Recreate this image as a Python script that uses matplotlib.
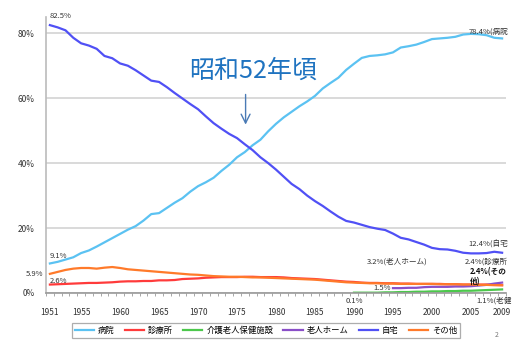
import numpy as np
import matplotlib.pyplot as plt

plt.rcParams['font.family'] = ['Noto Sans CJK JP', 'DejaVu Sans']

# Place of death, share of all deaths (%), 1951-2009
years = list(range(1951, 2010))

hospital = [9.1, 9.6, 10.3, 11.0, 12.3, 13.1, 14.3, 15.6, 16.9, 18.2,
            19.5, 20.6, 22.3, 24.3, 24.6, 26.2, 27.8, 29.2, 31.2, 32.9,
            34.1, 35.5, 37.6, 39.5, 41.8, 43.4, 45.5, 47.2, 49.8, 52.1,
            54.1, 55.8, 57.5, 59.0, 60.7, 63.0, 64.7, 66.3, 68.7, 70.6,
            72.4, 73.0, 73.2, 73.5, 74.1, 75.6, 76.0, 76.5, 77.3, 78.2,
            78.4, 78.6, 78.9, 79.6, 79.8, 79.7, 79.4, 78.6, 78.4]

clinic = [2.6, 2.7, 2.8, 2.9, 3.0, 3.1, 3.1, 3.2, 3.3, 3.5,
          3.6, 3.6, 3.7, 3.7, 3.9, 3.9, 4.0, 4.3, 4.4, 4.5,
          4.7, 4.8, 4.9, 4.9, 4.9, 5.0, 5.0, 4.9, 4.9, 4.9,
          4.8, 4.6, 4.5, 4.4, 4.3, 4.1, 3.9, 3.7, 3.5, 3.4,
          3.2, 3.1, 3.1, 3.0, 3.0, 2.9, 2.9, 2.8, 2.8, 2.8,
          2.8, 2.7, 2.7, 2.6, 2.6, 2.6, 2.6, 2.5, 2.4]

home = [82.5, 81.8, 80.9, 78.6, 76.9, 76.2, 75.2, 73.0, 72.3, 70.7,
        70.0, 68.6, 67.0, 65.4, 65.0, 63.4, 61.6, 59.9, 58.2, 56.6,
        54.4, 52.3, 50.6, 49.0, 47.7, 45.8, 44.0, 41.8, 40.0, 38.0,
        35.8, 33.6, 32.0, 30.0, 28.3, 26.8, 25.1, 23.5, 22.2, 21.7,
        21.0, 20.3, 19.8, 19.4, 18.3, 17.0, 16.5, 15.7, 14.9, 13.9,
        13.5, 13.4, 13.0, 12.4, 12.2, 12.2, 12.3, 12.7, 12.4]

other = [5.9, 6.5, 7.1, 7.5, 7.7, 7.7, 7.5, 7.8, 8.0, 7.7,
         7.3, 7.1, 6.9, 6.7, 6.5, 6.3, 6.1, 5.9, 5.7, 5.6,
         5.4, 5.2, 5.1, 5.0, 5.0, 4.9, 4.8, 4.8, 4.7, 4.6,
         4.5, 4.4, 4.3, 4.2, 4.1, 3.9, 3.7, 3.5, 3.3, 3.2,
         3.1, 3.0, 3.0, 2.9, 2.9, 2.8, 2.8, 2.8, 2.8, 2.8,
         2.7, 2.7, 2.7, 2.6, 2.6, 2.5, 2.5, 2.4, 2.4]

rouken_years = list(range(1990, 2010))
rouken = [0.1, 0.1, 0.1, 0.1, 0.2, 0.2, 0.3, 0.3, 0.4, 0.4,
          0.5, 0.5, 0.6, 0.6, 0.7, 0.7, 0.8, 0.9, 1.0, 1.1]

nursing_years = list(range(1995, 2010))
nursing = [1.5, 1.5, 1.6, 1.6, 1.8, 1.9, 1.9, 1.9, 2.0, 2.0,
           2.1, 2.3, 2.5, 2.9, 3.2]

tick_years = [1951, 1955, 1960, 1965, 1970, 1975, 1980, 1985, 1990, 1995, 2000, 2005, 2009]

fig = plt.figure(figsize=(5.14, 3.46), dpi=100)
ax = fig.add_axes([46/514, 53/346, 460/514, 276/346])

lw = 1.6
ax.plot(years, hospital, color='#5BC2F2', lw=lw, label='病院')
ax.plot(years, clinic, color='#FF3B3B', lw=lw, label='診療所')
ax.plot(rouken_years, rouken, color='#4CC84C', lw=lw, label='介護老人保健施設')
ax.plot(nursing_years, nursing, color='#8A4FC8', lw=lw, label='老人ホーム')
ax.plot(years, home, color='#5050F5', lw=lw, label='自宅')
ax.plot(years, other, color='#FF7A2A', lw=lw, label='その他')

ax.set_xlim(1950.5, 2009.5)
ax.set_ylim(0, 85)
ax.set_yticks([0, 20, 40, 60, 80])
ax.set_yticklabels(['0%', '20%', '40%', '60%', '80%'])
ax.set_xticks(tick_years)
ax.set_xticklabels([str(y) for y in tick_years])
ax.set_xticks(np.arange(1950.5, 2010, 1), minor=True)
ax.tick_params(axis='x', which='major', length=0, pad=11, labelsize=6, labelcolor='#333333')
ax.tick_params(axis='x', which='minor', length=2.5, color='#999999', direction='out')
ax.tick_params(axis='y', length=0, pad=8, labelsize=6, labelcolor='#333333')
ax.grid(axis='y', color='#D9D9D9', lw=1.4)
ax.set_axisbelow(True)
for side in ['top', 'right']:
    ax.spines[side].set_visible(False)
ax.spines['left'].set_color('#BBBBBB')
ax.spines['bottom'].set_color('#999999')
ax.spines['left'].set_linewidth(1.2)
ax.spines['bottom'].set_linewidth(1.2)

# value labels
fs = 5.5
tc = '#333333'
ax.text(1951, home[0] + 1.5, '82.5%', fontsize=fs, color=tc, va='bottom')
ax.text(2009.8, hospital[-1] + 0.8, '78.4%(病院', fontsize=fs, color=tc, ha='right', va='bottom')
ax.text(1951, hospital[0] + 1.2, '9.1%', fontsize=fs, color=tc, va='bottom')
ax.text(1950.2, other[0], '5.9%', fontsize=fs, color=tc, ha='right', va='center')
ax.text(1951, clinic[0] + 1.0, '2.6%', fontsize=fs, color=tc, va='center')
ax.text(2009.8, home[-1] + 2.5, '12.4%(自宅', fontsize=fs, color=tc, ha='right', va='center')
ax.text(1999.5, 9.6, '3.2%(老人ホーム)', fontsize=fs, color=tc, ha='right', va='center')
ax.text(2009.8, 9.6, '2.4%(診療所', fontsize=fs, color=tc, ha='right', va='center')
ax.text(2004.9, 8.0, '2.4%(その\n他)', fontsize=fs, color='#111111', fontweight='bold',
        ha='left', va='top', linespacing=1.2)
ax.text(1994.7, nursing[0] + 0.1, '1.5%', fontsize=fs, color=tc, ha='right', va='center')
ax.text(1990, -1.2, '0.1%', fontsize=fs, color=tc, ha='center', va='top')
ax.text(2010.2, -1.2, '1.1%(老健', fontsize=fs, color=tc, ha='right', va='top')

# crossover note
ax.annotate('', xy=(1976.1, 51), xytext=(1976.1, 62),
            arrowprops=dict(arrowstyle='->', color='#4A7AB5', lw=1.0, mutation_scale=16))
ax.text(1977, 68.6, '昭和52年頃', fontsize=18, color='#1F73C0', ha='center', va='center')

leg = ax.legend(loc='upper center', bbox_to_anchor=(0.478, -0.095), ncol=6, fontsize=6,
                frameon=True, fancybox=False, edgecolor='#999999', handlelength=2.3,
                handletextpad=0.5, columnspacing=1.2, borderpad=0.35)
leg.get_frame().set_linewidth(0.9)

fig.text(495/514, 1 - 337/346, '2', fontsize=5, color='#777777')

fig.savefig('out.png', dpi=100)
